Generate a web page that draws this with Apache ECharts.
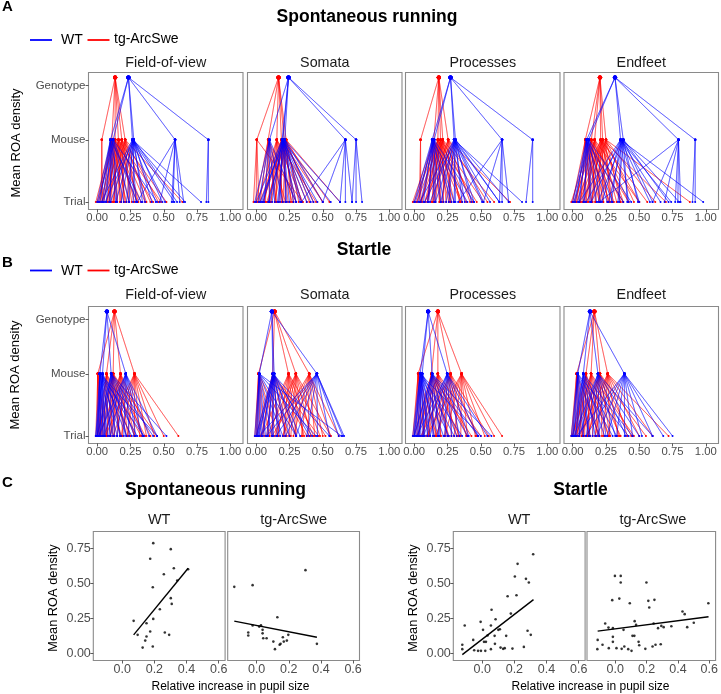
<!DOCTYPE html>
<html><head><meta charset="utf-8">
<script src="https://cdn.jsdelivr.net/npm/echarts@6/dist/echarts.min.js"></script>
<style>html,body{margin:0;padding:0;background:#fff}#c{width:721px;height:694px}</style>
</head><body><div id="c"></div>
<script>
// ---------- DATA ----------
const facets = ['Field-of-view', 'Somata', 'Processes', 'Endfeet'];
const levelNames = ['Trial', 'Mouse', 'Genotype'];
const levelValues = [0, 1, 1.87];
const hierTicks = [0, 0.25, 0.5, 0.75, 1];
const scatterXTicks = [0, 0.2, 0.4, 0.6];
const scatterYTicks = [0, 0.25, 0.5, 0.75];

// Genotype-level means (per facet)
const spontGenoWT = [0.235, 0.243, 0.273, 0.318];
const spontGenoTG = [0.135, 0.168, 0.185, 0.205];
const startleGenoWT = [0.073, 0.118, 0.105, 0.13];
const startleGenoTG = [0.13, 0.138, 0.178, 0.163];

// Mouse means with their trial values: [mouse, [trials]]
const spontWT_FOV = [
  [0.10, [0.0, 0.02, 0.04, 0.07, 0.10, 0.14, 0.20, 0.33]],
  [0.12, [0.01, 0.05, 0.09, 0.15, 0.24, 0.30, 0.45]],
  [0.265, [0.03, 0.10, 0.18, 0.24, 0.29, 0.36, 0.44, 0.51, 0.58, 0.66, 0.78]],
  [0.275, [0.06, 0.14, 0.22, 0.27, 0.34, 0.41, 0.49, 0.60]],
  [0.585, [0.30, 0.47, 0.56, 0.57, 0.62, 0.65]],
  [0.835, [0.835, 0.82]]];
const spontTG_FOV = [
  [0.035, [0.03, 0.04]],
  [0.11, [-0.01, 0.01, 0.04, 0.08, 0.11, 0.15, 0.22, 0.30]],
  [0.135, [0.0, 0.05, 0.09, 0.13, 0.18, 0.24, 0.33, 0.42]],
  [0.16, [0.02, 0.07, 0.12, 0.17, 0.21, 0.28, 0.36, 0.48]],
  [0.185, [0.04, 0.09, 0.15, 0.20, 0.26, 0.31, 0.40, 0.52]],
  [0.21, [0.07, 0.12, 0.18, 0.24, 0.30, 0.37, 0.46, 0.64]]];
const spontWT_Som = [
  [0.10, [-0.01, 0.02, 0.06, 0.10, 0.14, 0.20, 0.30]],
  [0.195, [0.0, 0.05, 0.12, 0.18, 0.23, 0.30, 0.38, 0.46, 0.56]],
  [0.20, [0.04, 0.10, 0.17, 0.25, 0.33, 0.41]],
  [0.215, [0.03, 0.09, 0.16, 0.22, 0.28, 0.34, 0.43, 0.50, 0.63]],
  [0.67, [0.34, 0.50, 0.63, 0.67, 0.72]],
  [0.75, [0.72, 0.75, 0.795]]];
const spontTG_Som = [
  [0.005, [-0.02, 0.0, 0.02, 0.35]],
  [0.09, [0.0, 0.03, 0.07, 0.10, 0.15, 0.22, 0.30]],
  [0.155, [0.01, 0.06, 0.11, 0.15, 0.20, 0.27, 0.35, 0.45]],
  [0.19, [0.03, 0.09, 0.14, 0.19, 0.24, 0.30, 0.38, 0.50]],
  [0.21, [0.05, 0.11, 0.17, 0.22, 0.28, 0.34, 0.43, 0.55]],
  [0.225, [0.08, 0.14, 0.20, 0.26, 0.32, 0.40, 0.50, 0.63]]];
const spontWT_Proc = [
  [0.135, [0.0, 0.03, 0.07, 0.11, 0.15, 0.20, 0.28, 0.40]],
  [0.15, [0.01, 0.05, 0.10, 0.16, 0.22, 0.30, 0.45]],
  [0.30, [0.04, 0.12, 0.20, 0.26, 0.31, 0.38, 0.45, 0.51, 0.57, 0.64, 0.81]],
  [0.31, [0.08, 0.16, 0.24, 0.30, 0.36, 0.43, 0.52, 0.64, 0.71]],
  [0.66, [0.33, 0.52, 0.64, 0.66, 0.71]],
  [0.89, [0.84, 0.89]]];
const spontTG_Proc = [
  [0.048, [0.04, 0.05]],
  [0.148, [-0.01, 0.02, 0.06, 0.10, 0.14, 0.19, 0.26, 0.35]],
  [0.178, [0.0, 0.05, 0.10, 0.15, 0.20, 0.27, 0.36, 0.47]],
  [0.198, [0.02, 0.08, 0.13, 0.19, 0.24, 0.30, 0.39, 0.52]],
  [0.215, [0.05, 0.10, 0.16, 0.22, 0.28, 0.35, 0.44, 0.60]],
  [0.255, [0.08, 0.14, 0.21, 0.27, 0.34, 0.42, 0.55, 0.72]]];
const spontWT_End = [
  [0.105, [0.0, 0.02, 0.05, 0.09, 0.13, 0.18, 0.26, 0.38]],
  [0.12, [0.01, 0.04, 0.08, 0.14, 0.21, 0.30, 0.44]],
  [0.36, [0.05, 0.14, 0.22, 0.29, 0.35, 0.42, 0.50, 0.58, 0.66, 0.74, 0.98]],
  [0.38, [0.10, 0.19, 0.27, 0.34, 0.41, 0.49, 0.60, 0.72, 0.80]],
  [0.795, [0.20, 0.60, 0.69, 0.77, 0.79, 0.81]],
  [0.92, [0.92, 0.90]]];
const spontTG_End = [
  [0.095, [0.0, 0.03, 0.06, 0.10, 0.14, 0.20, 0.28, 0.38]],
  [0.14, [-0.01, 0.02, 0.07, 0.12, 0.17, 0.23, 0.31, 0.42]],
  [0.165, [0.01, 0.05, 0.10, 0.15, 0.20, 0.27, 0.36, 0.50]],
  [0.21, [0.03, 0.08, 0.14, 0.20, 0.26, 0.33, 0.42, 0.56]],
  [0.225, [0.05, 0.11, 0.17, 0.23, 0.30, 0.38, 0.50, 0.70]],
  [0.25, [0.08, 0.14, 0.21, 0.28, 0.36, 0.46, 0.62, 0.88]]];

const startleWT_FOV = [
  [0.02, [-0.01, 0.0, 0.01, 0.02, 0.03, 0.05, 0.08, 0.12, 0.18, 0.26, 0.35, 0.45]],
  [0.04, [-0.01, 0.0, 0.02, 0.04, 0.06, 0.10, 0.15, 0.22, 0.30]],
  [0.105, [0.0, 0.02, 0.05, 0.09, 0.13, 0.17, 0.22, 0.28, 0.35, 0.42, 0.52]],
  [0.215, [0.01, 0.05, 0.10, 0.15, 0.20, 0.24, 0.29, 0.34, 0.39, 0.45]]];
const startleTG_FOV = [
  [0.005, [-0.01, 0.0, 0.01, 0.02, 0.04, 0.07]],
  [0.07, [0.0, 0.02, 0.05, 0.08, 0.12, 0.18, 0.25, 0.33]],
  [0.12, [0.0, 0.03, 0.07, 0.10, 0.13, 0.17, 0.22, 0.28, 0.36, 0.45]],
  [0.175, [0.02, 0.06, 0.10, 0.15, 0.19, 0.23, 0.28, 0.34, 0.40]],
  [0.28, [0.06, 0.12, 0.18, 0.23, 0.28, 0.32, 0.37, 0.43, 0.50, 0.61]]];
const startleWT_Som = [
  [0.023, [-0.01, 0.0, 0.01, 0.02, 0.04, 0.07, 0.12, 0.20, 0.30, 0.45, 0.64]],
  [0.125, [0.0, 0.02, 0.05, 0.09, 0.13, 0.18, 0.25, 0.33, 0.42, 0.55]],
  [0.135, [0.01, 0.04, 0.08, 0.12, 0.16, 0.22, 0.30, 0.40]],
  [0.456, [0.02, 0.08, 0.15, 0.22, 0.30, 0.38, 0.46, 0.55, 0.62, 0.65, 0.66]]];
const startleTG_Som = [
  [0.018, [-0.01, 0.0, 0.01, 0.03, 0.06, 0.10, 0.16, 0.25]],
  [0.125, [0.0, 0.04, 0.08, 0.12, 0.17, 0.23, 0.30, 0.38, 0.47]],
  [0.243, [0.04, 0.10, 0.16, 0.21, 0.25, 0.30, 0.36, 0.43, 0.52]],
  [0.298, [0.08, 0.14, 0.20, 0.26, 0.30, 0.35, 0.41, 0.48, 0.56]],
  [0.398, [0.12, 0.20, 0.28, 0.34, 0.39, 0.44, 0.50, 0.56, 0.62]]];
const startleWT_Proc = [
  [0.045, [-0.01, 0.0, 0.01, 0.03, 0.05, 0.08, 0.12, 0.18, 0.26, 0.36, 0.50]],
  [0.06, [0.0, 0.02, 0.04, 0.07, 0.10, 0.15, 0.22, 0.30]],
  [0.135, [0.0, 0.03, 0.06, 0.10, 0.14, 0.19, 0.25, 0.32, 0.40, 0.48, 0.58]],
  [0.248, [0.02, 0.07, 0.12, 0.18, 0.23, 0.28, 0.34, 0.41, 0.48, 0.55]]];
const startleTG_Proc = [
  [0.03, [-0.01, 0.0, 0.02, 0.04, 0.07, 0.11, 0.17]],
  [0.13, [0.0, 0.03, 0.07, 0.11, 0.15, 0.20, 0.26, 0.34, 0.43]],
  [0.178, [0.02, 0.06, 0.11, 0.16, 0.20, 0.25, 0.32, 0.40, 0.50]],
  [0.273, [0.05, 0.11, 0.17, 0.23, 0.28, 0.33, 0.39, 0.47, 0.56]],
  [0.356, [0.09, 0.16, 0.23, 0.30, 0.35, 0.40, 0.46, 0.53, 0.60, 0.66]]];
const startleWT_End = [
  [0.038, [-0.01, 0.0, 0.01, 0.03, 0.05, 0.08, 0.13, 0.20, 0.30, 0.42]],
  [0.08, [0.0, 0.02, 0.05, 0.08, 0.12, 0.17, 0.24, 0.33, 0.45]],
  [0.19, [0.01, 0.05, 0.10, 0.15, 0.20, 0.25, 0.32, 0.40, 0.50, 0.60]],
  [0.388, [0.03, 0.10, 0.18, 0.26, 0.33, 0.39, 0.45, 0.52, 0.60, 0.68, 0.75]]];
const startleTG_End = [
  [0.03, [-0.01, 0.0, 0.02, 0.04, 0.07, 0.12, 0.20]],
  [0.10, [0.0, 0.02, 0.05, 0.09, 0.13, 0.19, 0.27]],
  [0.138, [0.0, 0.03, 0.07, 0.11, 0.15, 0.20, 0.27, 0.36, 0.46]],
  [0.205, [0.02, 0.07, 0.12, 0.17, 0.22, 0.28, 0.35, 0.44, 0.55]],
  [0.263, [0.05, 0.11, 0.17, 0.23, 0.28, 0.34, 0.41, 0.50, 0.60, 0.72]]];

// Panel C scatter: [relative pupil increase, mean ROA density]
const spontScatterWT = [[0.193,0.786],[0.302,0.743],[0.174,0.674],[0.321,0.607],[0.41,0.6],[0.259,0.564],[0.342,0.519],[0.19,0.471],[0.302,0.393],[0.308,0.352],[0.234,0.314],[0.071,0.231],[0.193,0.245],[0.151,0.214],[0.096,0.131],[0.174,0.155],[0.151,0.119],[0.143,0.09],[0.265,0.148],[0.292,0.131],[0.127,0.04],[0.19,0.048]];
const spontScatterTG = [[-0.139,0.474],[-0.025,0.486],[0.304,0.593],[0.129,0.257],[-0.025,0.198],[0.016,0.19],[0.027,0.2],[-0.052,0.148],[-0.052,0.126],[0.037,0.167],[0.037,0.142],[0.041,0.107],[0.062,0.107],[0.104,0.083],[0.114,0.029],[0.143,0.06],[0.149,0.067],[0.163,0.114],[0.169,0.083],[0.188,0.09],[0.197,0.131],[0.375,0.067]];
const startleScatterWT = [[0.317,0.707],[0.22,0.638],[0.203,0.548],[0.272,0.531],[0.29,0.505],[0.158,0.407],[0.213,0.414],[0.058,0.31],[0.178,0.283],[0.083,0.243],[-0.109,0.198],[-0.01,0.224],[0.054,0.198],[0.005,0.167],[0.1,0.167],[0.11,0.171],[0.033,0.126],[0.077,0.124],[0.149,0.124],[0.282,0.16],[0.302,0.131],[-0.056,0.095],[0.011,0.081],[0.023,0.081],[0.079,0.067],[-0.124,0.06],[-0.124,0.029],[-0.05,0.021],[-0.026,0.017],[-0.008,0.017],[0.019,0.017],[0.054,0.029],[0.114,0.04],[0.13,0.031],[0.14,0.036],[0.188,0.033],[0.259,0.045]];
const startleScatterTG = [[-0.002,0.552],[0.035,0.552],[0.035,0.505],[0.199,0.505],[-0.019,0.379],[0.026,0.39],[0.093,0.357],[0.211,0.374],[0.25,0.381],[0.217,0.326],[0.429,0.298],[0.443,0.279],[0.594,0.357],[0.501,0.217],[0.459,0.186],[0.358,0.193],[0.294,0.195],[0.309,0.186],[0.273,0.179],[0.245,0.212],[0.124,0.229],[0.133,0.202],[0.053,0.167],[-0.064,0.212],[-0.043,0.183],[-0.015,0.179],[-0.015,0.117],[-0.015,0.081],[-0.081,0.06],[-0.112,0.095],[-0.114,0.029],[-0.041,0.036],[0.008,0.036],[0.041,0.031],[0.058,0.048],[0.083,0.029],[0.104,0.017],[0.11,0.124],[0.122,0.124],[0.149,0.081],[0.153,0.057],[0.192,0.031],[0.238,0.048],[0.257,0.06],[0.29,0.064]];
// Fitted regression line end points
const spontFitWT = [[0.071,0.131],[0.41,0.607]];
const spontFitTG = [[-0.139,0.229],[0.375,0.114]];
const startleFitWT = [[-0.124,-0.01],[0.319,0.383]];
const startleFitTG = [[-0.112,0.158],[0.595,0.26]];

// ---------- CHART ----------
const BLUE = '#0000ff', RED = '#ff0000';
const FONT = 'Liberation Sans, Arial, Helvetica, sans-serif';
const chart = echarts.init(document.getElementById('c'), null, {renderer: 'canvas'});

const hierLefts = [88.5, 247.5, 405.5, 564];
const hierW = 154.5, hierH = 137;
const rowTops = [72.5, 306.5];
const scatLefts = [93.3, 227.7, 453.3, 587];
const scatW = 131.8, scatTop = 531.5, scatH = 129;

const grids = [], xAxes = [], yAxes = [], series = [];
const border = {show: true, borderColor: '#8a8a8a', borderWidth: 1.1, backgroundColor: 'transparent'};
const tickStyle = {show: true, length: 3, lineStyle: {color: '#333', width: 0.8}};
const noLine = {show: false, onZero: false};
const labelColor = '#4d4d4d';

function buildPath(geno, mice) {
  const pts = [];
  for (const [m, trials] of mice) {
    pts.push([geno, levelValues[2] + 0.13]);
    pts.push([m, 1]);
    for (const t of trials) { pts.push([t, 0]); pts.push([m, 1]); }
  }
  pts.push([geno, levelValues[2] + 0.13]);
  return pts;
}
function hierSeries(gi, geno, mice, color, z) {
  return {
    type: 'line', xAxisIndex: gi, yAxisIndex: gi, data: buildPath(geno, mice),
    symbol: 'circle', showAllSymbol: true,
    symbolSize: v => (v[1] > 1.5 ? 4.2 : (v[1] > 0.5 ? 2.4 : 2.0)),
    lineStyle: {color: color, width: 0.6, opacity: 0.62},
    itemStyle: {color: color}, z: z, silent: true, animation: false, clip: false
  };
}

const rows = [
  {geWT: spontGenoWT, geTG: spontGenoTG, wt: [spontWT_FOV, spontWT_Som, spontWT_Proc, spontWT_End], tg: [spontTG_FOV, spontTG_Som, spontTG_Proc, spontTG_End]},
  {geWT: startleGenoWT, geTG: startleGenoTG, wt: [startleWT_FOV, startleWT_Som, startleWT_Proc, startleWT_End], tg: [startleTG_FOV, startleTG_Som, startleTG_Proc, startleTG_End]}
];

rows.forEach((row, r) => {
  for (let p = 0; p < 4; p++) {
    const gi = grids.length;
    grids.push(Object.assign({left: hierLefts[p], top: rowTops[r], width: hierW, height: hierH}, border));
    xAxes.push({
      gridIndex: gi, type: 'value', min: -0.065, max: 1.095, position: 'bottom',
      axisLine: noLine, splitLine: {show: false},
      axisTick: Object.assign({customValues: hierTicks}, tickStyle),
      axisLabel: {customValues: hierTicks, formatter: v => v.toFixed(2), color: labelColor, fontSize: 11.3, fontFamily: FONT, margin: 2.5}
    });
    yAxes.push({
      gridIndex: gi, type: 'value', min: -0.12, max: 2.08, position: 'left',
      axisLine: noLine, splitLine: {show: false},
      axisTick: Object.assign({customValues: levelValues}, tickStyle, {show: p === 0}),
      axisLabel: {show: p === 0, customValues: levelValues, formatter: v => levelNames[levelValues.indexOf(v)] || '', color: labelColor, fontSize: 11.5, fontFamily: FONT, margin: 3}
    });
    series.push(hierSeries(gi, row.geTG[p], row.tg[p], RED, 2));
    series.push(hierSeries(gi, row.geWT[p], row.wt[p], BLUE, 3));
  }
});

const scatData = [spontScatterWT, spontScatterTG, startleScatterWT, startleScatterTG];
const fitData = [spontFitWT, spontFitTG, startleFitWT, startleFitTG];
for (let k = 0; k < 4; k++) {
  const gi = grids.length;
  grids.push(Object.assign({left: scatLefts[k], top: scatTop, width: scatW, height: scatH}, border));
  xAxes.push({
    gridIndex: gi, type: 'value', min: -0.18, max: 0.64, position: 'bottom',
    axisLine: noLine, splitLine: {show: false},
    axisTick: Object.assign({customValues: scatterXTicks}, tickStyle),
    axisLabel: {customValues: scatterXTicks, formatter: v => v.toFixed(1), color: labelColor, fontSize: 12.5, fontFamily: FONT, margin: 2.5}
  });
  yAxes.push({
    gridIndex: gi, type: 'value', min: -0.052, max: 0.869, position: 'left',
    axisLine: noLine, splitLine: {show: false},
    axisTick: Object.assign({customValues: scatterYTicks}, tickStyle, {show: k % 2 === 0}),
    axisLabel: {show: k % 2 === 0, customValues: scatterYTicks, formatter: v => v.toFixed(2), color: labelColor, fontSize: 12.5, fontFamily: FONT, margin: 2.5}
  });
  series.push({type: 'scatter', xAxisIndex: gi, yAxisIndex: gi, data: scatData[k], symbolSize: 2.6,
    itemStyle: {color: '#000'}, silent: true, animation: false});
  series.push({type: 'line', xAxisIndex: gi, yAxisIndex: gi, data: fitData[k], showSymbol: false,
    lineStyle: {color: '#000', width: 1.4}, silent: true, animation: false});
}

function txt(text, x, y, size, opts) {
  return Object.assign({type: 'text', x: x, y: y, silent: true,
    style: Object.assign({text: text, fontSize: size, fontFamily: FONT, fill: '#000', align: 'center', verticalAlign: 'middle'}, (opts && opts.style) || {})},
    opts && opts.rotation ? {rotation: opts.rotation} : {});
}
const bold = {style: {fontWeight: 'bold'}};
const leftBold = {style: {fontWeight: 'bold', align: 'left'}};
const graphics = [];
// Section letters and titles
graphics.push(txt('A', 2, 7, 15, leftBold));
graphics.push(txt('B', 2, 262.5, 15, leftBold));
graphics.push(txt('C', 2, 482.7, 15, leftBold));
graphics.push(txt('Spontaneous running', 367, 17, 17.5, bold));
graphics.push(txt('Startle', 364, 250, 17.5, bold));
graphics.push(txt('Spontaneous running', 215.5, 490, 17.5, bold));
graphics.push(txt('Startle', 580.5, 490, 17.5, bold));
// Legends
[40, 270.5].forEach(y => {
  graphics.push({type: 'line', silent: true, shape: {x1: 30, y1: y, x2: 52, y2: y}, style: {stroke: BLUE, lineWidth: 1.8}});
  graphics.push(txt('WT', 61, y + 0.5, 14, {style: {align: 'left'}}));
  graphics.push({type: 'line', silent: true, shape: {x1: 87.5, y1: y, x2: 109.5, y2: y}, style: {stroke: RED, lineWidth: 1.8}});
  graphics.push(txt('tg-ArcSwe', 114, y - 0.5, 14, {style: {align: 'left'}}));
});
// Facet strip titles
[63, 295].forEach(y => {
  facets.forEach((f, i) => graphics.push(txt(f, hierLefts[i] + hierW / 2, y, 14.3, {style: {fill: '#1a1a1a'}})));
});
['WT', 'tg-ArcSwe', 'WT', 'tg-ArcSwe'].forEach((f, i) => graphics.push(txt(f, scatLefts[i] + scatW / 2, 520, 14.5, {style: {fill: '#1a1a1a'}})));
// Axis titles
graphics.push(txt('Mean ROA density', 16, 143, 13, {rotation: Math.PI / 2}));
graphics.push(txt('Mean ROA density', 15, 375, 13, {rotation: Math.PI / 2}));
graphics.push(txt('Mean ROA density', 53.5, 598, 12.8, {rotation: Math.PI / 2}));
graphics.push(txt('Mean ROA density', 413.5, 598, 12.8, {rotation: Math.PI / 2}));
graphics.push(txt('Relative increase in pupil size', 230.5, 686.5, 12, {}));
graphics.push(txt('Relative increase in pupil size', 590.5, 686.5, 12, {}));

chart.setOption({
  animation: false,
  backgroundColor: '#fff',
  grid: grids, xAxis: xAxes, yAxis: yAxes, series: series,
  graphic: graphics
});
</script>
</body></html>
